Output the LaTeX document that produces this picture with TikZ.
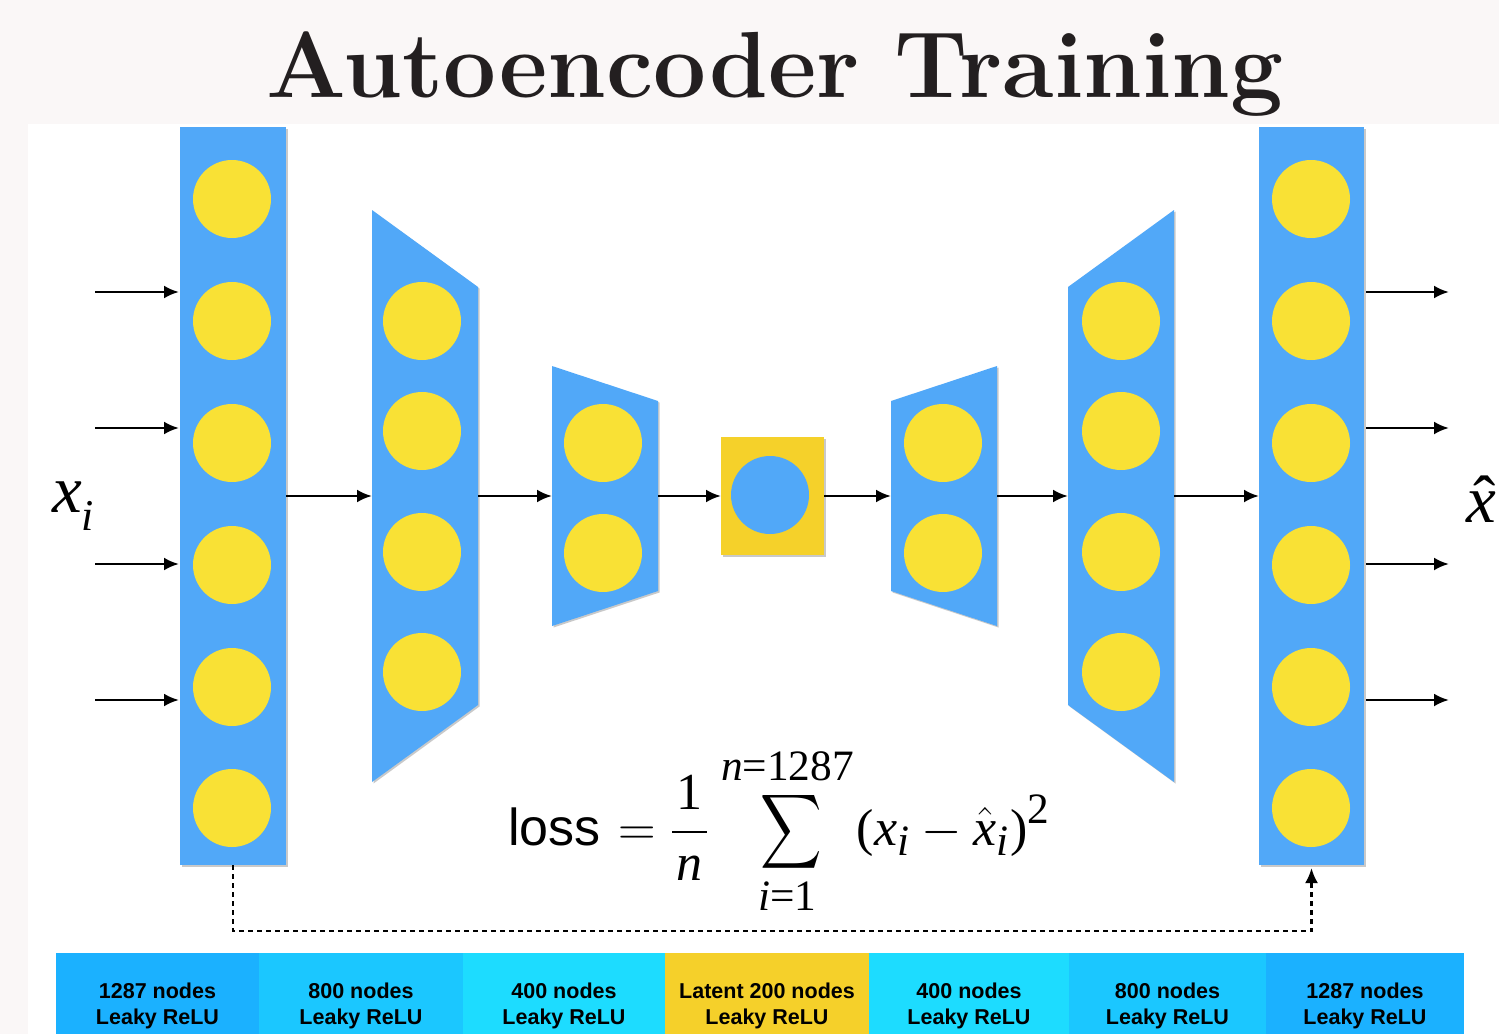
\documentclass[tikz,border=0pt]{standalone}
\usepackage{amsmath}
\usepackage{fontspec}
\newfontfamily\helv{Liberation Sans}
\newfontfamily\tms{Liberation Serif}
\usetikzlibrary{arrows.meta,shadows}

\definecolor{pagebg}{HTML}{FAF7F7}
\definecolor{titleink}{HTML}{231F20}
\definecolor{layerblue}{HTML}{51A8F8}
\definecolor{neuronyellow}{HTML}{F9E135}
\definecolor{latentyellow}{HTML}{F5D12A}
\definecolor{barA}{HTML}{1BB1FF}
\definecolor{barB}{HTML}{1BC7FF}
\definecolor{barC}{HTML}{1DDCFF}
\definecolor{barD}{HTML}{F5D02A}

% math set at the largest design size of the fonts, then enlarged
\newcommand{\bigmath}[2]{\scalebox{#1}{\fontsize{24.88}{30}\selectfont $\displaystyle #2$}}
% serif letters and figures for the formulas
\newcommand{\tv}[1]{\text{\tms\itshape #1}}
\newcommand{\tn}[1]{\text{\tms #1}}

\begin{document}
\begin{tikzpicture}[x=1pt,y=-1pt,
  frame/.style={inner sep=0pt, outer sep=0pt},
  softshadow/.style={drop shadow={shadow xshift=1.5pt, shadow yshift=-1.5pt, opacity=.35, fill=black!60}},
  layer/.style={fill=layerblue, softshadow},
  neuron/.style={circle, fill=neuronyellow, minimum size=78pt, inner sep=0pt},
  tip/.style={-{Latex[length=15pt,width=13pt]}},
  arr/.style={tip, line width=2.7pt},
  dashlink/.style={tip, line width=2.6pt, dash pattern=on 5pt off 4pt},
  barcell/.style={frame, minimum height=81pt},
  bartext/.style={align=center, font=\helv\bfseries\fontsize{21.5}{26}\selectfont}
]
\useasboundingbox (0,0) rectangle (1499,1034);
\fill[pagebg] (0,0) rectangle (1499,1034);
\fill[white] (28,124) rectangle (1499,1034);

% title
\node[anchor=base, text=titleink, font=\fontsize{94}{94}\selectfont\bfseries] (title) at (775,97) {Autoencoder Training};

% encoder and decoder layers
\node[frame, layer, minimum width=106pt, minimum height=738pt] (L1) at (233,496) {};
\node[frame, minimum width=106pt, minimum height=572pt] (L2) at (425,496) {};
\fill[layer] (L2.north west) -- ([yshift=-77pt]L2.north east) -- ([yshift=77pt]L2.south east) -- (L2.south west) -- cycle;
\node[frame, minimum width=106pt, minimum height=260pt] (L3) at (605,496) {};
\fill[layer] (L3.north west) -- ([yshift=-35pt]L3.north east) -- ([yshift=35pt]L3.south east) -- (L3.south west) -- cycle;
\node[frame, fill=latentyellow, softshadow, minimum width=103pt, minimum height=118pt] (L4) at (772.5,496) {};
\node[frame, minimum width=106pt, minimum height=260pt] (L5) at (944,496) {};
\fill[layer] ([yshift=-35pt]L5.north west) -- (L5.north east) -- (L5.south east) -- ([yshift=35pt]L5.south west) -- cycle;
\node[frame, minimum width=106pt, minimum height=572pt] (L6) at (1121,496) {};
\fill[layer] ([yshift=-77pt]L6.north west) -- (L6.north east) -- (L6.south east) -- ([yshift=77pt]L6.south west) -- cycle;
\node[frame, layer, minimum width=105pt, minimum height=738pt] (L7) at (1311.5,496) {};

% neurons
\foreach \y [count=\k] in {199,321,443,565,687,808} {
  \node[neuron] (a\k) at (232,\y) {};
  \node[neuron] (g\k) at (1311,\y) {};
}
\foreach \y [count=\k] in {321,431,552,672} {
  \node[neuron] (b\k) at (422,\y) {};
  \node[neuron] (f\k) at (1121,\y) {};
}
\foreach \y [count=\k] in {443,553} {
  \node[neuron] (c\k) at (603,\y) {};
  \node[neuron] (e\k) at (943,\y) {};
}
\node[neuron, fill=layerblue] (z) at (770,495) {};

% inputs and outputs
\foreach \y [count=\k] in {292,428,564,700} {
  \coordinate (in\k) at (95,\y);
  \coordinate (out\k) at (1449,\y);
  \draw[arr, shorten >=1pt] (in\k) -- (in\k -| L1.west);
  \draw[arr, shorten <=2pt] (out\k -| L7.east) -- (out\k);
}

% forward pass between layers
\draw[arr] (L1.east) -- (L2.west);
\draw[arr] (L2.east) -- (L3.west);
\draw[arr] (L3.east) -- (L4.west);
\draw[arr] (L4.east) -- (L5.west);
\draw[arr] (L5.east) -- (L6.west);
\draw[arr] (L6.east) -- (L7.west);

% reconstruction comparison
\draw[dashlink, shorten >=3pt] (L1.south) -- ([yshift=-66pt]L1.south) -| (L7.south);

% input / output symbols
\node[anchor=base west, inner sep=0pt, font=\tms\itshape\fontsize{67}{67}\selectfont] (xin) at (52,512)
  {x\raisebox{-18pt}{\fontsize{44}{44}\selectfont i}};
\node[anchor=base west, inner sep=0pt, font=\tms\itshape\fontsize{67}{67}\selectfont] (xout) at (1466,522) {x};
\node[anchor=base, inner sep=0pt, font=\tms\fontsize{67}{67}\selectfont] (xhat) at (1485,522) {\char"02C6};

% loss
\node[anchor=base west, inner sep=0pt] (loss) at (508,845)
  {\bigmath{2.09}{\text{\helv loss}\mkern1mu = \mkern0mu \frac{\tn{1}}{\mkern1.5mu\tv{n}\mkern1.5mu}\mkern1mu
   \mathop{\mkern2.5mu\scalebox{0.82}[1]{$\displaystyle\sum$}}\limits_{\tv{i}\tn{=}\tn{1}}^{\tv{n}\tn{=}\tn{1287}}
   \mkern-2mu \tn{(}\tv{x}_{\tv{i}} - \hat{\tv{x}}_{\tv{i}}\tn{)}^{\tn{2}}}};

% layer legend
\node[barcell, fill=barA, minimum width=203pt] (b1) at (157.5,993.5) {};
\node[barcell, fill=barB, minimum width=204pt] (b2) at (361,993.5) {};
\node[barcell, fill=barC, minimum width=202pt] (b3) at (564,993.5) {};
\node[barcell, fill=barD, minimum width=204pt] (b4) at (767,993.5) {};
\node[barcell, fill=barC, minimum width=200pt] (b5) at (969,993.5) {};
\node[barcell, fill=barB, minimum width=197pt] (b6) at (1167.5,993.5) {};
\node[barcell, fill=barA, minimum width=198pt] (b7) at (1365,993.5) {};
\node[bartext] (t1) at ([yshift=-12pt]b1.center) {1287 nodes\\Leaky ReLU};
\node[bartext] (t2) at ([yshift=-12pt]b2.center) {800 nodes\\Leaky ReLU};
\node[bartext] (t3) at ([yshift=-12pt]b3.center) {400 nodes\\Leaky ReLU};
\node[bartext] (t4) at ([yshift=-12pt]b4.center) {Latent 200 nodes\\Leaky ReLU};
\node[bartext] (t5) at ([yshift=-12pt]b5.center) {400 nodes\\Leaky ReLU};
\node[bartext] (t6) at ([yshift=-12pt]b6.center) {800 nodes\\Leaky ReLU};
\node[bartext] (t7) at ([yshift=-12pt]b7.center) {1287 nodes\\Leaky ReLU};
\end{tikzpicture}
\end{document}
